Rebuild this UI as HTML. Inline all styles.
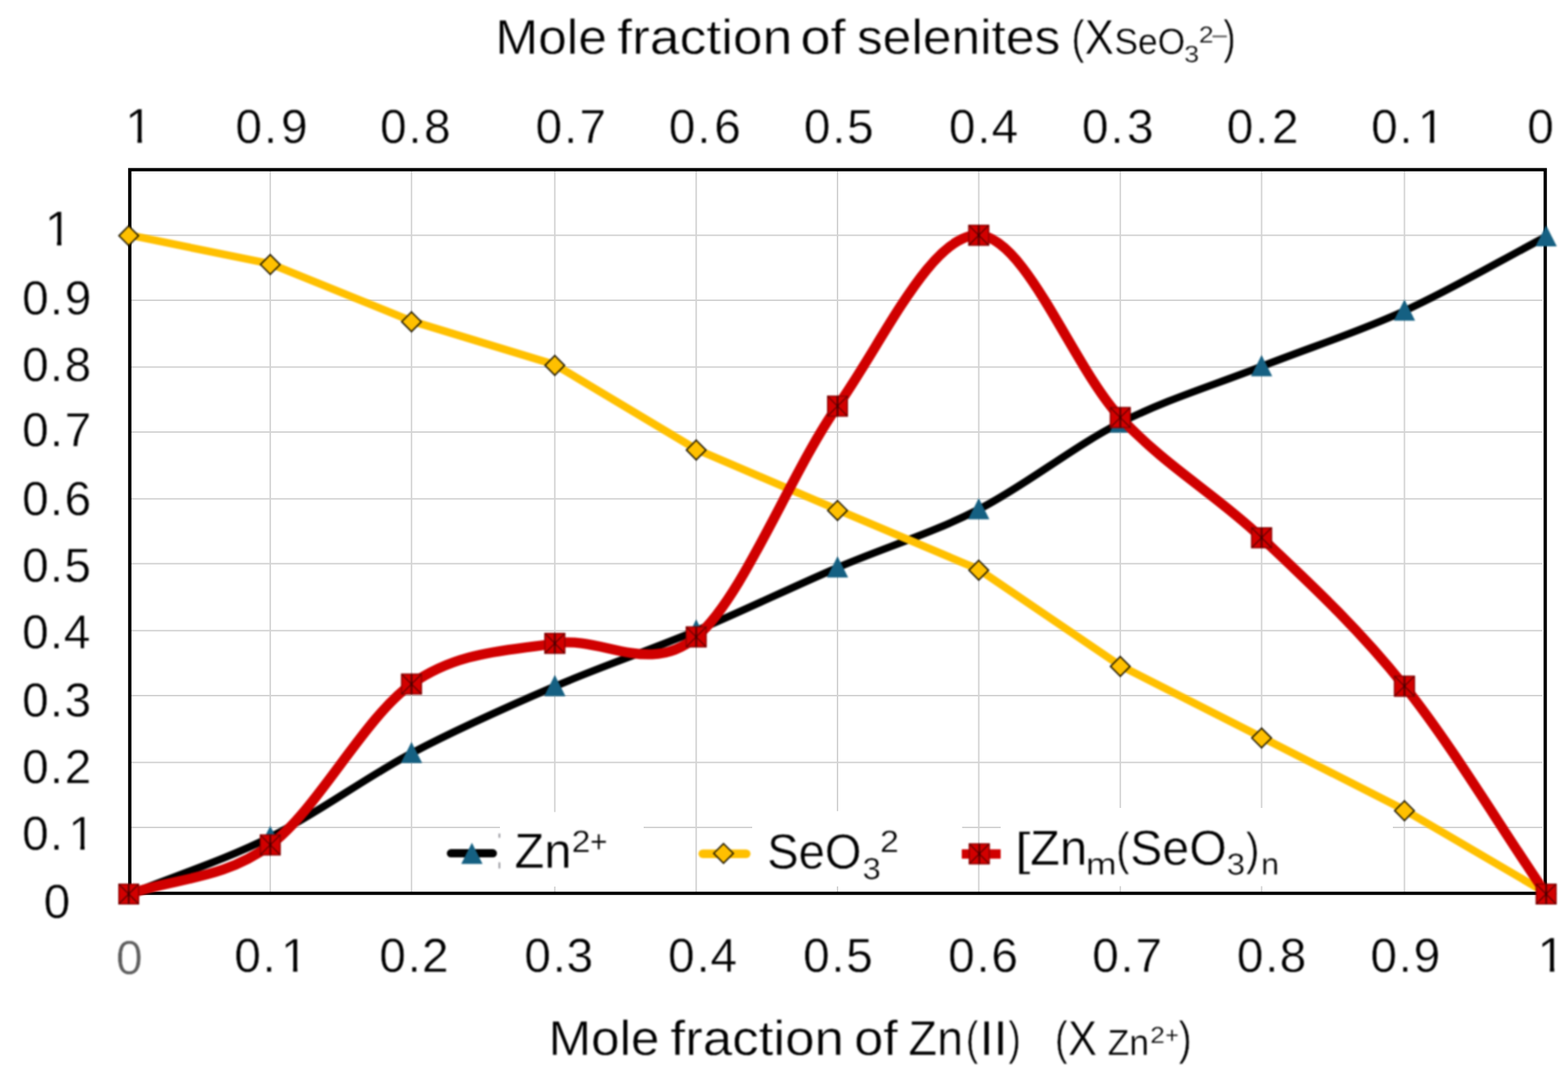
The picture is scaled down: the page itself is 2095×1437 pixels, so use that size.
<!DOCTYPE html>
<html lang="en"><head><meta charset="utf-8"><title>Mole fraction chart</title>
<style>html,body{margin:0;padding:0;background:#fff;}body{width:2095px;height:1437px;overflow:hidden;}svg{display:block;}.soft{filter:blur(0.9px);}.softt{filter:blur(1.0px);}text{font-family:"Liberation Sans",sans-serif;stroke:#fff;stroke-width:0.0095em;font-kerning:none;text-rendering:geometricPrecision;white-space:pre;}</style>
</head><body>
<svg xmlns="http://www.w3.org/2000/svg" width="2095" height="1437" viewBox="0 0 2095 1437">
<rect x="0" y="0" width="2095" height="1437" fill="#ffffff"/>
<g stroke="#d3d3d3" stroke-width="2.0" fill="none">
<line x1="361.1" y1="226.6" x2="361.1" y2="1193.0"/>
<line x1="549.8" y1="226.6" x2="549.8" y2="1193.0"/>
<line x1="741.3" y1="226.6" x2="741.3" y2="1193.0"/>
<line x1="930.2" y1="226.6" x2="930.2" y2="1193.0"/>
<line x1="1119.0" y1="226.6" x2="1119.0" y2="1193.0"/>
<line x1="1307.7" y1="226.6" x2="1307.7" y2="1193.0"/>
<line x1="1496.8" y1="226.6" x2="1496.8" y2="1193.0"/>
<line x1="1685.6" y1="226.6" x2="1685.6" y2="1193.0"/>
<line x1="1876.5" y1="226.6" x2="1876.5" y2="1193.0"/>
<line x1="173.4" y1="314.2" x2="2061" y2="314.2"/>
<line x1="173.4" y1="401.1" x2="2061" y2="401.1"/>
<line x1="173.4" y1="490.2" x2="2061" y2="490.2"/>
<line x1="173.4" y1="577.1" x2="2061" y2="577.1"/>
<line x1="173.4" y1="666.2" x2="2061" y2="666.2"/>
<line x1="173.4" y1="752.8" x2="2061" y2="752.8"/>
<line x1="173.4" y1="842.2" x2="2061" y2="842.2"/>
<line x1="173.4" y1="929.1" x2="2061" y2="929.1"/>
<line x1="173.4" y1="1018.2" x2="2061" y2="1018.2"/>
<line x1="173.4" y1="1105.1" x2="2061" y2="1105.1"/>
</g>
<g fill="#ffffff">
<rect x="668" y="1084.5" width="192" height="99.5"/>
<rect x="1005" y="1083.3" width="280.5" height="100.5"/>
<rect x="1337" y="1079" width="524" height="104.5"/>
</g>
<rect x="173.4" y="226.6" width="1891.1999999999998" height="966.4" fill="none" stroke="#000" stroke-width="4.4"/>
<g class="soft">
<path transform="translate(0 1.0)" d="M172.00 1193.50 C235.03 1168.00 298.13 1148.42 361.10 1117.00 C424.07 1085.58 486.43 1038.55 549.80 1005.00 C613.17 971.45 677.90 942.98 741.30 915.70 C804.70 888.42 867.25 867.73 930.20 841.30 C993.15 814.87 1056.08 784.10 1119.00 757.10 C1181.92 730.10 1244.73 711.55 1307.70 679.30 C1370.67 647.05 1433.82 595.42 1496.80 563.60 C1559.78 531.78 1622.32 513.30 1685.60 488.40 C1748.88 463.50 1813.13 443.10 1876.50 414.20 C1939.87 385.30 2002.70 348.07 2065.80 315.00" fill="none" stroke="#000000" stroke-width="10.0" stroke-linecap="round" stroke-linejoin="round"/>
<path d="M172.00 1179.40 L186.20 1207.60 L157.80 1207.60 Z" fill="#156082"/>
<path d="M361.10 1102.90 L375.30 1131.10 L346.90 1131.10 Z" fill="#156082"/>
<path d="M549.80 990.90 L564.00 1019.10 L535.60 1019.10 Z" fill="#156082"/>
<path d="M741.30 901.60 L755.50 929.80 L727.10 929.80 Z" fill="#156082"/>
<path d="M930.20 827.20 L944.40 855.40 L916.00 855.40 Z" fill="#156082"/>
<path d="M1119.00 743.00 L1133.20 771.20 L1104.80 771.20 Z" fill="#156082"/>
<path d="M1307.70 665.20 L1321.90 693.40 L1293.50 693.40 Z" fill="#156082"/>
<path d="M1496.80 549.50 L1511.00 577.70 L1482.60 577.70 Z" fill="#156082"/>
<path d="M1685.60 474.30 L1699.80 502.50 L1671.40 502.50 Z" fill="#156082"/>
<path d="M1876.50 400.10 L1890.70 428.30 L1862.30 428.30 Z" fill="#156082"/>
<path d="M2065.80 300.90 L2080.00 329.10 L2051.60 329.10 Z" fill="#156082"/>
<path transform="translate(0 -1.0)" d="M172.00 314.80 L361.10 353.30 L549.80 429.70 L741.30 488.00 L930.20 601.00 L1119.00 681.70 L1307.70 761.50 L1496.80 890.00 L1685.60 985.60 L1876.50 1082.70 L2065.80 1193.50" fill="none" stroke="#FFC000" stroke-width="10.3" stroke-linecap="round" stroke-linejoin="round"/>
<path d="M172.00 301.70 L185.10 314.80 L172.00 327.90 L158.90 314.80 Z" fill="#FFC000" stroke="#1c1500" stroke-width="1.9" stroke-linejoin="miter"/>
<path d="M361.10 340.20 L374.20 353.30 L361.10 366.40 L348.00 353.30 Z" fill="#FFC000" stroke="#1c1500" stroke-width="1.9" stroke-linejoin="miter"/>
<path d="M549.80 416.60 L562.90 429.70 L549.80 442.80 L536.70 429.70 Z" fill="#FFC000" stroke="#1c1500" stroke-width="1.9" stroke-linejoin="miter"/>
<path d="M741.30 474.90 L754.40 488.00 L741.30 501.10 L728.20 488.00 Z" fill="#FFC000" stroke="#1c1500" stroke-width="1.9" stroke-linejoin="miter"/>
<path d="M930.20 587.90 L943.30 601.00 L930.20 614.10 L917.10 601.00 Z" fill="#FFC000" stroke="#1c1500" stroke-width="1.9" stroke-linejoin="miter"/>
<path d="M1119.00 668.60 L1132.10 681.70 L1119.00 694.80 L1105.90 681.70 Z" fill="#FFC000" stroke="#1c1500" stroke-width="1.9" stroke-linejoin="miter"/>
<path d="M1307.70 748.40 L1320.80 761.50 L1307.70 774.60 L1294.60 761.50 Z" fill="#FFC000" stroke="#1c1500" stroke-width="1.9" stroke-linejoin="miter"/>
<path d="M1496.80 876.90 L1509.90 890.00 L1496.80 903.10 L1483.70 890.00 Z" fill="#FFC000" stroke="#1c1500" stroke-width="1.9" stroke-linejoin="miter"/>
<path d="M1685.60 972.50 L1698.70 985.60 L1685.60 998.70 L1672.50 985.60 Z" fill="#FFC000" stroke="#1c1500" stroke-width="1.9" stroke-linejoin="miter"/>
<path d="M1876.50 1069.60 L1889.60 1082.70 L1876.50 1095.80 L1863.40 1082.70 Z" fill="#FFC000" stroke="#1c1500" stroke-width="1.9" stroke-linejoin="miter"/>
<path d="M2065.80 1180.40 L2078.90 1193.50 L2065.80 1206.60 L2052.70 1193.50 Z" fill="#FFC000" stroke="#1c1500" stroke-width="1.9" stroke-linejoin="miter"/>
<path transform="translate(0 0)" d="M172.00 1194.00 C235.03 1172.13 298.13 1175.13 361.10 1128.40 C424.07 1081.67 486.43 958.47 549.80 913.60 C613.17 868.73 677.90 869.70 741.30 859.20 C804.70 848.70 867.25 903.40 930.20 850.60 C993.15 797.80 1056.08 631.80 1119.00 542.40 C1181.92 453.00 1244.73 311.67 1307.70 314.20 C1370.67 316.73 1433.82 490.27 1496.80 557.60 C1559.78 624.93 1622.32 658.40 1685.60 718.20 C1748.88 778.00 1813.13 837.10 1876.50 916.40 C1939.87 995.70 2002.70 1101.47 2065.80 1194.00" fill="none" stroke="#D00000" stroke-width="13.3" stroke-linecap="round" stroke-linejoin="round"/>
<g><rect x="158.00" y="1180.00" width="28.00" height="28.00" fill="#d20000"/><path d="M158.60 1180.60 L185.40 1207.40 M185.40 1180.60 L158.60 1207.40" stroke="#400000" stroke-width="1.5" fill="none" opacity="0.8"/><path d="M172.00 1180.00 L172.00 1208.00" stroke="#2a0000" stroke-width="2.0" fill="none" opacity="0.85"/><rect x="158.70" y="1180.70" width="26.60" height="26.60" fill="none" stroke="#6a0000" stroke-width="1.4" opacity="0.75"/></g>
<g><rect x="347.10" y="1114.40" width="28.00" height="28.00" fill="#d20000"/><path d="M347.70 1115.00 L374.50 1141.80 M374.50 1115.00 L347.70 1141.80" stroke="#400000" stroke-width="1.5" fill="none" opacity="0.8"/><path d="M361.10 1114.40 L361.10 1142.40" stroke="#2a0000" stroke-width="2.0" fill="none" opacity="0.85"/><rect x="347.80" y="1115.10" width="26.60" height="26.60" fill="none" stroke="#6a0000" stroke-width="1.4" opacity="0.75"/></g>
<g><rect x="535.80" y="899.60" width="28.00" height="28.00" fill="#d20000"/><path d="M536.40 900.20 L563.20 927.00 M563.20 900.20 L536.40 927.00" stroke="#400000" stroke-width="1.5" fill="none" opacity="0.8"/><path d="M549.80 899.60 L549.80 927.60" stroke="#2a0000" stroke-width="2.0" fill="none" opacity="0.85"/><rect x="536.50" y="900.30" width="26.60" height="26.60" fill="none" stroke="#6a0000" stroke-width="1.4" opacity="0.75"/></g>
<g><rect x="727.30" y="845.20" width="28.00" height="28.00" fill="#d20000"/><path d="M727.90 845.80 L754.70 872.60 M754.70 845.80 L727.90 872.60" stroke="#400000" stroke-width="1.5" fill="none" opacity="0.8"/><path d="M741.30 845.20 L741.30 873.20" stroke="#2a0000" stroke-width="2.0" fill="none" opacity="0.85"/><rect x="728.00" y="845.90" width="26.60" height="26.60" fill="none" stroke="#6a0000" stroke-width="1.4" opacity="0.75"/></g>
<g><rect x="916.20" y="836.60" width="28.00" height="28.00" fill="#d20000"/><path d="M916.80 837.20 L943.60 864.00 M943.60 837.20 L916.80 864.00" stroke="#400000" stroke-width="1.5" fill="none" opacity="0.8"/><path d="M930.20 836.60 L930.20 864.60" stroke="#2a0000" stroke-width="2.0" fill="none" opacity="0.85"/><rect x="916.90" y="837.30" width="26.60" height="26.60" fill="none" stroke="#6a0000" stroke-width="1.4" opacity="0.75"/></g>
<g><rect x="1105.00" y="528.40" width="28.00" height="28.00" fill="#d20000"/><path d="M1105.60 529.00 L1132.40 555.80 M1132.40 529.00 L1105.60 555.80" stroke="#400000" stroke-width="1.5" fill="none" opacity="0.8"/><path d="M1119.00 528.40 L1119.00 556.40" stroke="#2a0000" stroke-width="2.0" fill="none" opacity="0.85"/><rect x="1105.70" y="529.10" width="26.60" height="26.60" fill="none" stroke="#6a0000" stroke-width="1.4" opacity="0.75"/></g>
<g><rect x="1293.70" y="300.20" width="28.00" height="28.00" fill="#d20000"/><path d="M1294.30 300.80 L1321.10 327.60 M1321.10 300.80 L1294.30 327.60" stroke="#400000" stroke-width="1.5" fill="none" opacity="0.8"/><path d="M1307.70 300.20 L1307.70 328.20" stroke="#2a0000" stroke-width="2.0" fill="none" opacity="0.85"/><rect x="1294.40" y="300.90" width="26.60" height="26.60" fill="none" stroke="#6a0000" stroke-width="1.4" opacity="0.75"/></g>
<g><rect x="1482.80" y="543.60" width="28.00" height="28.00" fill="#d20000"/><path d="M1483.40 544.20 L1510.20 571.00 M1510.20 544.20 L1483.40 571.00" stroke="#400000" stroke-width="1.5" fill="none" opacity="0.8"/><path d="M1496.80 543.60 L1496.80 571.60" stroke="#2a0000" stroke-width="2.0" fill="none" opacity="0.85"/><rect x="1483.50" y="544.30" width="26.60" height="26.60" fill="none" stroke="#6a0000" stroke-width="1.4" opacity="0.75"/></g>
<g><rect x="1671.60" y="704.20" width="28.00" height="28.00" fill="#d20000"/><path d="M1672.20 704.80 L1699.00 731.60 M1699.00 704.80 L1672.20 731.60" stroke="#400000" stroke-width="1.5" fill="none" opacity="0.8"/><path d="M1685.60 704.20 L1685.60 732.20" stroke="#2a0000" stroke-width="2.0" fill="none" opacity="0.85"/><rect x="1672.30" y="704.90" width="26.60" height="26.60" fill="none" stroke="#6a0000" stroke-width="1.4" opacity="0.75"/></g>
<g><rect x="1862.50" y="902.40" width="28.00" height="28.00" fill="#d20000"/><path d="M1863.10 903.00 L1889.90 929.80 M1889.90 903.00 L1863.10 929.80" stroke="#400000" stroke-width="1.5" fill="none" opacity="0.8"/><path d="M1876.50 902.40 L1876.50 930.40" stroke="#2a0000" stroke-width="2.0" fill="none" opacity="0.85"/><rect x="1863.20" y="903.10" width="26.60" height="26.60" fill="none" stroke="#6a0000" stroke-width="1.4" opacity="0.75"/></g>
<g><rect x="2051.80" y="1180.00" width="28.00" height="28.00" fill="#d20000"/><path d="M2052.40 1180.60 L2079.20 1207.40 M2079.20 1180.60 L2052.40 1207.40" stroke="#400000" stroke-width="1.5" fill="none" opacity="0.8"/><path d="M2065.80 1180.00 L2065.80 1208.00" stroke="#2a0000" stroke-width="2.0" fill="none" opacity="0.85"/><rect x="2052.50" y="1180.70" width="26.60" height="26.60" fill="none" stroke="#6a0000" stroke-width="1.4" opacity="0.75"/></g>
<line x1="602.5" y1="1139.6" x2="658.5" y2="1139.6" stroke="#000000" stroke-width="11" stroke-linecap="round"/>
<path d="M630.50 1125.50 L644.70 1153.70 L616.30 1153.70 Z" fill="#156082"/>
<rect x="666.3" y="1113.2" width="1.9" height="5.6" fill="#6f6f78" opacity="0.85"/><rect x="666.3" y="1151.6" width="1.9" height="8.2" fill="#6f6f78" opacity="0.85"/>
<line x1="939" y1="1140.3" x2="997" y2="1140.3" stroke="#FFC000" stroke-width="11.5" stroke-linecap="round"/>
<path d="M966.70 1126.60 L979.80 1139.70 L966.70 1152.80 L953.60 1139.70 Z" fill="#FFC000" stroke="#1c1500" stroke-width="1.9" stroke-linejoin="miter"/>
<line x1="1285" y1="1140.5" x2="1337" y2="1140.5" stroke="#D00000" stroke-width="12.5"/>
<g><rect x="1294.40" y="1126.30" width="28.00" height="28.00" fill="#d20000"/><path d="M1295.00 1126.90 L1321.80 1153.70 M1321.80 1126.90 L1295.00 1153.70" stroke="#400000" stroke-width="1.5" fill="none" opacity="0.8"/><path d="M1308.40 1126.30 L1308.40 1154.30" stroke="#2a0000" stroke-width="2.0" fill="none" opacity="0.85"/><rect x="1295.10" y="1127.00" width="26.60" height="26.60" fill="none" stroke="#6a0000" stroke-width="1.4" opacity="0.75"/></g>
</g>
<g class="softt">
<g>
<text transform="translate(661.81 71.60) scale(1.0502 1.0000)" font-size="65.50" fill="#000" >Mole</text>
<text transform="translate(824.74 71.60) scale(1.0892 1.0000)" font-size="65.50" fill="#000" >fraction</text>
<text transform="translate(1069.61 71.60) scale(1.1045 1.0000)" font-size="65.50" fill="#000" >of</text>
<text transform="translate(1144.93 71.60) scale(1.0514 1.0000)" font-size="65.50" fill="#000" >selenites</text>
<text transform="translate(1431.79 70.60) scale(0.8148 1.0000)" font-size="62.49" fill="#000" >(</text>
<text transform="translate(1449.14 71.60) scale(0.8937 1.0000)" font-size="65.50" fill="#000" >X</text>
<text transform="translate(1488.91 71.60) scale(0.9738 1.0000)" font-size="48.50" fill="#000" >SeO</text>
<text transform="translate(1582.29 82.60) scale(1.1316 1.0000)" font-size="31.50" fill="#000" >3</text>
<text transform="translate(1601.66 56.50) scale(1.1471 1.0000)" font-size="31.00" fill="#000" >2</text>
<text x="1620.0" y="57.2" font-size="33" fill="#4f4f4f" style="stroke:none" textLength="19.2" lengthAdjust="spacingAndGlyphs">–</text>
<text transform="translate(1634.87 70.60) scale(0.7726 1.0000)" font-size="62.49" fill="#000" >)</text>
</g>
<g>
<text x="167.14" y="191.10" font-size="65.79" fill="#000" clip-path="url(#k0)">1</text>
<text x="314.60 352.51 375.44" y="191.10" font-size="64.00" fill="#000">0.9</text>
<text x="507.70 545.61 566.59" y="191.10" font-size="64.00" fill="#000">0.8</text>
<text x="715.50 753.41 774.23" y="191.10" font-size="64.00" fill="#000">0.7</text>
<text x="893.60 931.51 954.22" y="191.10" font-size="64.00" fill="#000">0.6</text>
<text x="1074.00 1111.91 1131.79" y="191.10" font-size="64.00" fill="#000">0.5</text>
<text x="1267.80 1305.71 1324.78" y="191.10" font-size="64.00" fill="#000">0.4</text>
<text x="1445.50 1483.41 1505.72" y="191.10" font-size="64.00" fill="#000">0.3</text>
<text x="1639.10 1677.01 1699.42" y="191.10" font-size="64.00" fill="#000">0.2</text>
<text x="1831.90 1869.81 1894.45" y="191.10" font-size="64.00" fill="#000" clip-path="url(#k1)">0.1</text>
<text x="2040.45" y="191.10" font-size="64.00" fill="#000">0</text>
</g>
<g>
<text x="155.10" y="1301.00" font-size="64.00" fill="#5e5e5e">0</text>
<text x="312.90 350.71 375.55" y="1297.60" font-size="64.00" fill="#000" clip-path="url(#k2)">0.1</text>
<text x="506.70 544.51 563.73" y="1297.60" font-size="64.00" fill="#000">0.2</text>
<text x="700.50 738.31 757.12" y="1297.60" font-size="64.00" fill="#000">0.3</text>
<text x="892.60 930.41 949.28" y="1297.60" font-size="64.00" fill="#000">0.4</text>
<text x="1073.00 1110.81 1130.49" y="1297.60" font-size="64.00" fill="#000">0.5</text>
<text x="1266.80 1304.61 1324.42" y="1297.60" font-size="64.00" fill="#000">0.6</text>
<text x="1459.30 1497.11 1517.03" y="1297.60" font-size="64.00" fill="#000">0.7</text>
<text x="1652.40 1690.21 1709.69" y="1297.60" font-size="64.00" fill="#000">0.8</text>
<text x="1830.90 1868.71 1888.64" y="1297.60" font-size="64.00" fill="#000">0.9</text>
<text x="2054.24" y="1297.60" font-size="65.79" fill="#000" clip-path="url(#k3)">1</text>
</g>
<g>
<text x="59.64" y="327.80" font-size="65.79" fill="#000" clip-path="url(#k4)">1</text>
<text x="29.50 66.61 86.44" y="419.70" font-size="64.00" fill="#000">0.9</text>
<text x="29.50 66.61 86.19" y="508.70" font-size="64.00" fill="#000">0.8</text>
<text x="29.50 66.61 86.62" y="596.40" font-size="64.00" fill="#000">0.7</text>
<text x="29.50 66.61 86.22" y="687.60" font-size="64.00" fill="#000">0.6</text>
<text x="29.50 66.61 86.09" y="776.90" font-size="64.00" fill="#000">0.5</text>
<text x="29.50 66.61 85.28" y="866.10" font-size="64.00" fill="#000">0.4</text>
<text x="29.50 66.61 86.22" y="956.50" font-size="64.00" fill="#000">0.3</text>
<text x="29.50 66.61 86.62" y="1046.00" font-size="64.00" fill="#000">0.2</text>
<text x="29.50 66.61 91.25" y="1135.40" font-size="64.00" fill="#000" clip-path="url(#k5)">0.1</text>
<text x="58.25" y="1225.90" font-size="64.00" fill="#000">0</text>
</g>
<g>
<text transform="translate(732.73 1409.40) scale(1.0457 1.0000)" font-size="65.50" fill="#000" >Mole</text>
<text transform="translate(895.85 1409.40) scale(1.0791 1.0000)" font-size="65.50" fill="#000" >fraction</text>
<text transform="translate(1141.21 1409.40) scale(1.0679 1.0000)" font-size="65.50" fill="#000" >of</text>
<text transform="translate(1213.66 1409.40) scale(0.9557 1.0000)" font-size="65.50" fill="#000" >Zn</text>
<text transform="translate(1290.76 1408.40) scale(0.7726 1.0000)" font-size="62.49" fill="#000" >(</text>
<text transform="translate(1308.71 1409.40) scale(1.0326 1.0000)" font-size="65.50" fill="#000" >II</text>
<text transform="translate(1347.56 1408.40) scale(0.7786 1.0000)" font-size="62.49" fill="#000" >)</text>
<text transform="translate(1409.79 1408.40) scale(0.7907 1.0000)" font-size="62.49" fill="#000" >(</text>
<text transform="translate(1427.05 1409.40) scale(0.8864 1.0000)" font-size="65.50" fill="#000" >X</text>
<text transform="translate(1479.64 1409.40) scale(0.9784 1.0000)" font-size="48.70" fill="#000" >Zn</text>
<text transform="translate(1536.87 1393.00) scale(1.1400 1.0000)" font-size="31.00" fill="#000" >2</text>
<text transform="translate(1556.95 1393.00) scale(0.9893 1.0000)" font-size="31.00" fill="#000" >+</text>
<text transform="translate(1574.95 1408.40) scale(0.8209 1.0000)" font-size="62.49" fill="#000" >)</text>
</g>
<g>
<text transform="translate(687.27 1159.30) scale(0.9909 1.0000)" font-size="66.00" fill="#000" >Zn</text>
<text transform="translate(763.78 1138.30) scale(1.0896 1.0000)" font-size="41.50" fill="#000" >2</text>
<text transform="translate(788.18 1138.30) scale(0.9721 1.0000)" font-size="41.50" fill="#000" >+</text>
<text transform="translate(1024.88 1159.60) scale(0.9562 1.0000)" font-size="66.00" fill="#000" >SeO</text>
<text transform="translate(1152.58 1174.00) scale(1.0832 1.0000)" font-size="40.50" fill="#000" >3</text>
<text transform="translate(1175.66 1138.30) scale(1.0949 1.0000)" font-size="41.50" fill="#000" >2</text>
<text transform="translate(1356.18 1155.40) scale(1.2051 1.0000)" font-size="61.38" fill="#000" >[</text>
<text transform="translate(1376.28 1155.20) scale(0.9895 1.0000)" font-size="66.00" fill="#000" >Zn</text>
<text transform="translate(1450.86 1168.40) scale(1.2168 1.0000)" font-size="40.70" fill="#000" >m</text>
<text transform="translate(1491.38 1155.40) scale(0.8603 1.0000)" font-size="61.38" fill="#000" >(</text>
<text transform="translate(1510.02 1155.40) scale(0.9769 1.0000)" font-size="66.00" fill="#000" >SeO</text>
<text transform="translate(1639.07 1168.00) scale(1.0884 1.0000)" font-size="40.50" fill="#000" >3</text>
<text transform="translate(1664.63 1155.40) scale(0.8787 1.0000)" font-size="61.38" fill="#000" >)</text>
<text transform="translate(1685.09 1168.40) scale(1.0584 1.0000)" font-size="40.70" fill="#000" >n</text>
</g>
</g>
<defs><clipPath id="k0"><rect x="167.14" y="122.02" width="35.34" height="63.98"/><rect x="183.69" y="185" width="5.81" height="8.10"/></clipPath><clipPath id="k1"><rect x="1828.90" y="123.90" width="99.92" height="62.10"/><rect x="1910.54" y="185" width="5.66" height="8.10"/><rect x="1828.90" y="185" width="67.42" height="8.10"/></clipPath><clipPath id="k2"><rect x="309.90" y="1230.40" width="100.03" height="61.60"/><rect x="391.64" y="1291" width="5.66" height="8.60"/><rect x="309.90" y="1291" width="67.53" height="8.60"/></clipPath><clipPath id="k3"><rect x="2054.24" y="1228.52" width="35.34" height="63.48"/><rect x="2070.79" y="1291" width="5.81" height="8.60"/></clipPath><clipPath id="k4"><rect x="59.64" y="258.72" width="35.34" height="63.28"/><rect x="76.19" y="321" width="5.81" height="8.80"/></clipPath><clipPath id="k5"><rect x="26.50" y="1068.20" width="99.12" height="61.80"/><rect x="107.34" y="1129" width="5.66" height="8.40"/><rect x="26.50" y="1129" width="66.62" height="8.40"/></clipPath></defs>
</svg>
</body></html>
